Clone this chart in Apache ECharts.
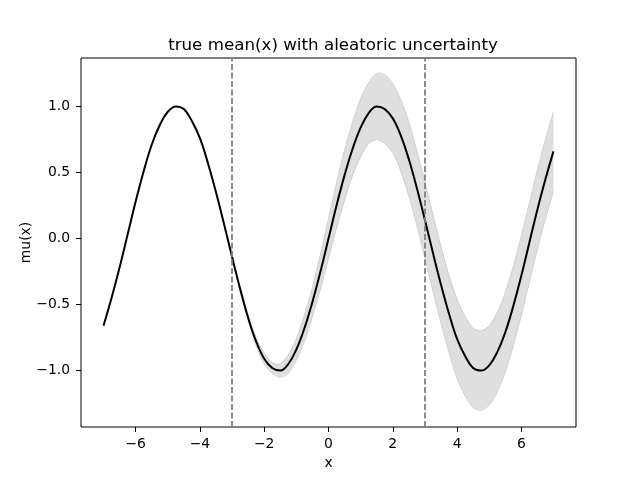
<!DOCTYPE html>
<html>
<head>
<meta charset="utf-8">
<script src="https://cdn.jsdelivr.net/npm/echarts@6/dist/echarts.min.js"></script>
<style>
  html, body { margin: 0; padding: 0; background: #fff; }
  #chart { width: 640px; height: 480px; }
</style>
</head>
<body>
<div id="chart"></div>
<script>
// x samples, every 0.25 from -7 to 7
const xs = [
  -7, -6.75, -6.5, -6.25, -6, -5.75, -5.5, -5.25, -5, -4.75, -4.5, -4.25, -4, -3.75, -3.5, -3.25,
  -3, -2.75, -2.5, -2.25, -2, -1.75, -1.5, -1.25, -1, -0.75, -0.5, -0.25,
  0, 0.25, 0.5, 0.75, 1, 1.25, 1.5, 1.75, 2, 2.25, 2.5, 2.75,
  3, 3.25, 3.5, 3.75, 4, 4.25, 4.5, 4.75, 5, 5.25, 5.5, 5.75, 6, 6.25, 6.5, 6.75, 7
];
// true mean
const mu = [
  -0.66, -0.45, -0.22, 0.03, 0.28, 0.51, 0.71, 0.86, 0.96, 1.00, 0.98, 0.89, 0.76, 0.57, 0.35, 0.11,
  -0.14, -0.38, -0.60, -0.78, -0.91, -0.98, -1.00, -0.95, -0.84, -0.68, -0.48, -0.25,
  0.00, 0.25, 0.48, 0.68, 0.84, 0.95, 1.00, 0.98, 0.91, 0.78, 0.60, 0.38,
  0.14, -0.11, -0.35, -0.57, -0.76, -0.89, -0.98, -1.00, -0.96, -0.86, -0.71, -0.51, -0.28, -0.03, 0.22, 0.45, 0.66
];
// half width of the grey band, from x = -3 to 7 (same 0.25 step)
const bandStart = -3;
const spread = [
  0.01, 0.02, 0.02, 0.03, 0.04, 0.04, 0.05, 0.07, 0.08, 0.10, 0.11, 0.13,
  0.15, 0.17, 0.19, 0.20, 0.22, 0.23, 0.25, 0.26, 0.26, 0.27, 0.28, 0.28,
  0.29, 0.29, 0.29, 0.29, 0.30, 0.30, 0.30, 0.30, 0.30, 0.30, 0.30, 0.30, 0.30, 0.30, 0.30, 0.30, 0.30
];
const dividers = [-3, 3];
const xTicks = [-6, -4, -2, 0, 2, 4, 6];
const yTicks = [-1.0, -0.5, 0.0, 0.5, 1.0];

const FONT = 'DejaVu Sans';
const first = xs.indexOf(bandStart);
const upper = spread.map((w, i) => [xs[first + i], mu[first + i] + w]);
const lower = spread.map((w, i) => [xs[first + i], mu[first + i] - w]);
const mean = xs.map((x, i) => [x, mu[i]]);

const minus = s => String(s).replace('-', '\u2212');

// grey band: upper edge left->right, then lower edge back, each edge smoothed
function renderBand(params, api) {
  const top = upper.map(p => api.coord(p));
  const bot = lower.slice().reverse().map(p => api.coord(p));
  const edge = { fill: null, stroke: '#cfcfcf', lineWidth: 1 };
  return {
    type: 'group',
    children: [
      {
        type: 'polygon',
        shape: { points: top.concat(bot), smooth: 0 },
        style: { fill: '#dfdfdf' }
      },
      { type: 'polyline', shape: { points: top, smooth: 0.35 }, style: edge },
      { type: 'polyline', shape: { points: bot, smooth: 0.35 }, style: edge }
    ]
  };
}

const chart = echarts.init(document.getElementById('chart'));
chart.setOption({
  animation: false,
  backgroundColor: '#fff',
  title: {
    text: 'true mean(x) with aleatoric uncertainty',
    left: 328,
    top: 32,
    textAlign: 'center',
    textStyle: { fontFamily: FONT, fontSize: 16.7, fontWeight: 'normal', color: '#000' }
  },
  grid: {
    left: 81, right: 64, top: 58, bottom: 53,
    show: true, borderColor: '#000', borderWidth: 1, backgroundColor: 'transparent'
  },
  xAxis: {
    type: 'value',
    min: -7.7, max: 7.7,
    name: 'x',
    nameLocation: 'middle',
    nameGap: 29,
    nameTextStyle: { fontFamily: FONT, fontSize: 13.9, color: '#000' },
    splitLine: { show: false },
    axisLine: { show: false, onZero: false },
    axisTick: { show: true, length: 5, customValues: xTicks, lineStyle: { color: '#000', width: 1 } },
    axisLabel: {
      customValues: xTicks, margin: 10,
      fontFamily: FONT, fontSize: 13.9, color: '#000',
      formatter: v => minus(v)
    }
  },
  yAxis: {
    type: 'value',
    min: -1.427, max: 1.367,
    name: 'mu(x)',
    nameLocation: 'middle',
    nameRotate: 90,
    nameGap: 48,
    nameMoveOverlap: false,
    nameTextStyle: { fontFamily: FONT, fontSize: 13.9, color: '#000' },
    splitLine: { show: false },
    axisLine: { show: false, onZero: false },
    axisTick: { show: true, length: 5, customValues: yTicks, lineStyle: { color: '#000', width: 1 } },
    axisLabel: {
      customValues: yTicks, margin: 11,
      fontFamily: FONT, fontSize: 13.9, color: '#000',
      formatter: v => minus(Number(v).toFixed(1))
    }
  },
  series: [
    {
      type: 'custom',
      name: 'band',
      data: [[bandStart, 0]],
      renderItem: renderBand,
      clip: true,
      silent: true,
      z: 1
    },
    {
      type: 'line',
      name: 'dividers',
      data: [],
      symbol: 'none',
      markLine: {
        silent: true,
        symbol: 'none',
        label: { show: false },
        lineStyle: { color: '#808080', width: 1.8, type: [6, 2.5] },
        data: dividers.map(x => ({ xAxis: x }))
      },
      z: 2
    },
    {
      type: 'line',
      name: 'mean',
      data: mean,
      symbol: 'none',
      smooth: 0.4,
      lineStyle: { color: '#000', width: 2 },
      z: 3
    }
  ]
});
</script>
</body>
</html>
